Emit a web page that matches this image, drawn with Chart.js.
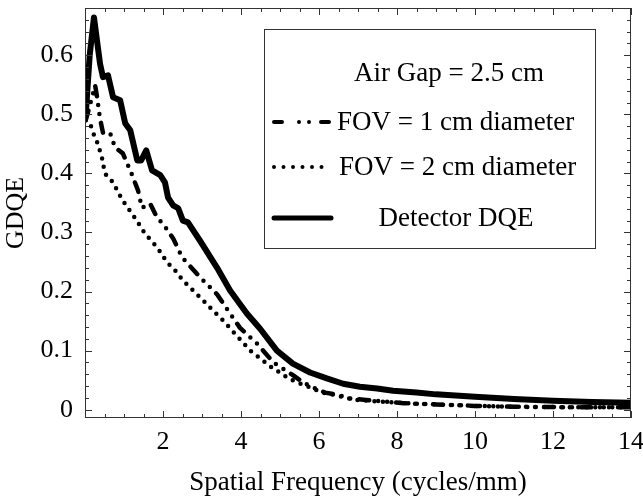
<!DOCTYPE html>
<html><head><meta charset="utf-8">
<script src="https://cdn.jsdelivr.net/npm/chart.js@4.4.1/dist/chart.umd.min.js"></script>
<style>html,body{margin:0;padding:0;background:#fff;}#wrap{width:643px;height:499px;}</style>
</head><body><div id="wrap"><canvas id="c" width="643" height="499"></canvas></div>
<script>
// ---- data ----
const detFreq = [0.02,0.12,0.23,0.385,0.46,0.59,0.72,0.90,1.03,1.16,1.34,1.44,1.57,1.72,1.93,2.05,2.13,2.26,2.39,2.51,2.64,2.95,3.38,3.72,4.15,4.49,4.92,5.33,5.77,6.2,6.62,7.05,7.49,7.9,8.5,9,10,11,12,13,14];
const detDQE  = [0.50,0.60,0.664,0.586,0.563,0.566,0.529,0.524,0.485,0.473,0.422,0.422,0.439,0.405,0.397,0.385,0.359,0.346,0.341,0.32,0.317,0.286,0.241,0.202,0.163,0.137,0.10,0.078,0.063,0.053,0.044,0.039,0.036,0.032,0.029,0.026,0.022,0.018,0.015,0.013,0.012];

const fov1Freq = [0.02,0.18,0.26,0.31,0.38,0.46,0.64,0.77,0.97,1.21,1.36,1.46,1.67,1.85,2.0,2.26,2.49,2.87,3.03,3.39,3.72,3.97,4.41,4.57,4.83,5.09,5.34,5.6,5.9,6.16,6.55,6.8,7.14,7.65,8.17,9,10,11,12,13,14];
const fov1GDQE = [0.49,0.529,0.549,0.529,0.495,0.469,0.469,0.444,0.434,0.397,0.371,0.342,0.349,0.325,0.315,0.29,0.258,0.23,0.219,0.195,0.163,0.139,0.112,0.10,0.08,0.069,0.058,0.046,0.036,0.029,0.024,0.019,0.017,0.014,0.011,0.009,0.0065,0.005,0.0045,0.004,0.004];

const fov2Freq = [0.02,0.13,0.2,0.33,0.44,0.51,0.64,0.72,0.85,0.97,1.15,1.33,1.49,1.67,1.85,2.1,2.31,2.51,2.77,3.03,3.28,3.54,3.8,4.24,4.57,4.8,5.0,5.2,5.44,5.65,5.9,6.1,6.47,6.88,7.3,7.75,8.5,9,10,11,12,13,14];
const fov2GDQE = [0.49,0.485,0.47,0.45,0.425,0.40,0.39,0.385,0.368,0.354,0.337,0.32,0.303,0.288,0.275,0.25,0.236,0.219,0.202,0.185,0.168,0.151,0.132,0.10,0.083,0.071,0.063,0.054,0.046,0.041,0.034,0.029,0.024,0.017,0.015,0.013,0.01,0.009,0.0065,0.005,0.0045,0.004,0.004];

const xTickValues = [2,4,6,8,10,12,14];
const yTickValues = [0,0.1,0.2,0.3,0.4,0.5,0.6];
const xTitle = "Spatial Frequency (cycles/mm)";
const yTitle = "GDQE";
const legendHeading = "Air Gap = 2.5 cm";
const seriesLabels = ["FOV = 1 cm diameter","FOV = 2 cm diameter","Detector DQE"];

// ---- styling ----
const FONT = "'Liberation Serif','Times New Roman',serif";
const DASHDOT = [10,9,0,9,0,9];
const DOTTED = [0,8.5];
const pts = (xs, ys) => xs.map((x,i)=>({x, y: ys[i]}));

const frameTicks = {
  id: 'frameTicks',
  afterDraw(chart){
    const {ctx, chartArea:a, scales:{x, y}} = chart;
    ctx.save();
    ctx.strokeStyle = '#333';
    ctx.lineWidth = 1;
    ctx.strokeRect(a.left+0.5, a.top+0.5, a.right-a.left-1, a.bottom-a.top-1);
    ctx.beginPath();
    for (let v = 0; v <= 14.0001; v += 0.5) {
      const px = Math.round(x.getPixelForValue(v)) + 0.5;
      const L = (Math.abs(v/2 - Math.round(v/2)) < 1e-6) ? 7 : 4;
      ctx.moveTo(px, a.bottom); ctx.lineTo(px, a.bottom - L);
      ctx.moveTo(px, a.top); ctx.lineTo(px, a.top + L);
    }
    for (let k = 0; k <= 34; k++) {
      const v = k * 0.02;
      const py = Math.round(y.getPixelForValue(v)) + 0.5;
      if (py < a.top || py > a.bottom) continue;
      const L = (k % 5 === 0) ? 7 : 4;
      ctx.moveTo(a.left, py); ctx.lineTo(a.left + L, py);
      ctx.moveTo(a.right, py); ctx.lineTo(a.right - L, py);
    }
    ctx.stroke();
    ctx.restore();
  }
};

const boxLegend = {
  id: 'boxLegend',
  afterDatasetsDraw(chart){
    const ctx = chart.ctx;
    const L = 264, T = 29, R = 595, B = 248;
    ctx.save();
    ctx.fillStyle = '#fff';
    ctx.fillRect(L, T, R-L, B-T);
    ctx.strokeStyle = '#333'; ctx.lineWidth = 1;
    ctx.strokeRect(L+0.5, T+0.5, R-L, B-T);
    ctx.fillStyle = '#000';
    ctx.font = "27px " + FONT;
    ctx.textBaseline = 'middle';
    ctx.textAlign = 'center';
    ctx.fillText(legendHeading, 449, 74);
    ctx.textAlign = 'left';
    ctx.fillText(seriesLabels[0], 337, 123);
    ctx.fillText(seriesLabels[1], 339, 168);
    ctx.textAlign = 'center';
    ctx.fillText(seriesLabels[2], 456, 219);
    ctx.strokeStyle = '#000';
    ctx.lineCap = 'round';
    ctx.lineWidth = 4;
    ctx.setLineDash([8,17,0,10,0,12]);
    ctx.beginPath(); ctx.moveTo(274,122); ctx.lineTo(331,122); ctx.stroke();
    ctx.setLineDash([0,9.5]);
    ctx.beginPath(); ctx.moveTo(274,167); ctx.lineTo(322,167); ctx.stroke();
    ctx.setLineDash([]);
    ctx.lineWidth = 5;
    ctx.beginPath(); ctx.moveTo(274,218); ctx.lineTo(331,218); ctx.stroke();
    ctx.restore();
  }
};

new Chart(document.getElementById('c'), {
  type: 'line',
  data: {
    datasets: [
      { label: seriesLabels[0], data: pts(fov1Freq, fov1GDQE), borderColor: '#000', borderWidth: 4.5,
        borderDash: DASHDOT, borderCapStyle: 'round', borderJoinStyle: 'round', pointRadius: 0, tension: 0 },
      { label: seriesLabels[1], data: pts(fov2Freq, fov2GDQE), borderColor: '#000', borderWidth: 4.5,
        borderDash: DOTTED, borderCapStyle: 'round', borderJoinStyle: 'round', pointRadius: 0, tension: 0 },
      { label: seriesLabels[2], data: pts(detFreq, detDQE), borderColor: '#000', borderWidth: 6,
        borderCapStyle: 'round', borderJoinStyle: 'round', pointRadius: 0, tension: 0 }
    ]
  },
  options: {
    responsive: false, animation: false, devicePixelRatio: 1,
    layout: { padding: { top: 8, right: 12, left: 0, bottom: 0 } },
    plugins: { legend: { display: false }, tooltip: { enabled: false } },
    scales: {
      x: {
        type: 'linear', min: 0, max: 14,
        afterFit: s => { s.height = 81; s.paddingLeft = 0; s.paddingRight = 0; },
        afterBuildTicks: s => { s.ticks = xTickValues.map(v => ({ value: v })); },
        grid: { display: false, drawTicks: false },
        border: { display: false },
        ticks: { color: '#000', font: { family: FONT, size: 26 }, padding: 9, maxRotation: 0, autoSkip: false,
                 callback: v => String(v) },
        title: { display: true, text: xTitle, color: '#000', font: { family: FONT, size: 27 }, padding: { top: 0, bottom: 0 } }
      },
      y: {
        type: 'linear', min: -0.014, max: 0.68,
        afterFit: s => { s.width = 85; s.paddingTop = 0; s.paddingBottom = 0; },
        afterBuildTicks: s => { s.ticks = yTickValues.map(v => ({ value: v })); },
        grid: { display: false, drawTicks: false },
        border: { display: false },
        ticks: { color: '#000', font: { family: FONT, size: 26 }, padding: 12, autoSkip: false,
                 callback: v => String(Math.round(v*10)/10) },
        title: { display: true, text: yTitle, color: '#000', font: { family: FONT, size: 26 }, padding: { top: 1, bottom: 0 } }
      }
    }
  },
  plugins: [frameTicks, boxLegend]
});
</script>
</body></html>
